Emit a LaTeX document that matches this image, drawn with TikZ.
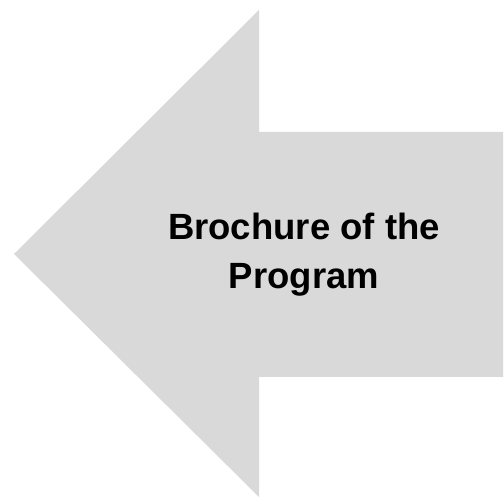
\documentclass[tikz,border=0pt]{standalone}
\usepackage{fontspec}
\setmainfont{Liberation Sans}
\usepackage{xcolor}
\definecolor{arrowgray}{HTML}{D9D9D9}

\begin{document}
\begin{tikzpicture}[x=1pt,y=1pt]
		      		\useasboundingbox (0,0) rectangle (504,497);
		      		\fill[arrowgray] (14,243) -- (259,487) -- (259,365) -- (503,365) -- (503,120) -- (259,120) -- (259,0) -- cycle;
		      		\node[align=center, font=\fontsize{36.5}{49}\selectfont\bfseries] (title) at (304,242) {Brochure of the\\Program};
		      	\end{tikzpicture}
\end{document}
